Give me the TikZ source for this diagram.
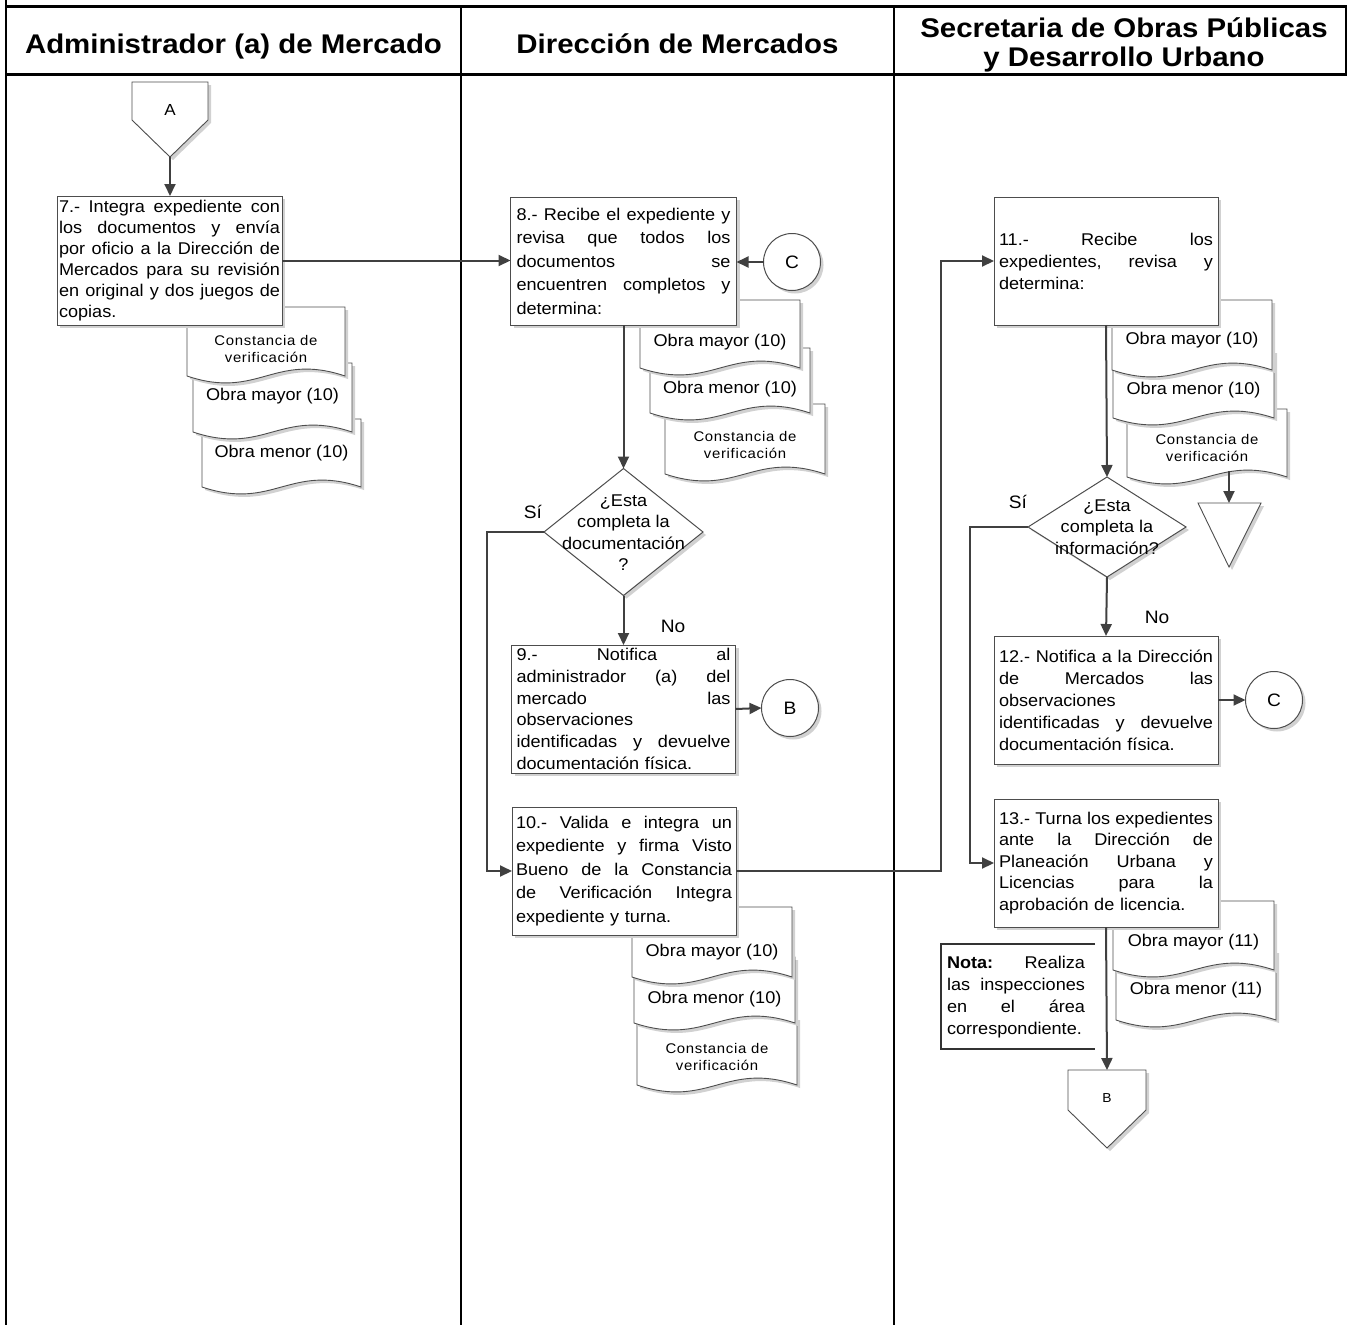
\documentclass[tikz,border=0pt]{standalone}
\usepackage{fontspec}
\setmainfont{Liberation Sans}[FakeStretch=1.065]
\newfontfamily\hdfont{Liberation Sans}[FakeStretch=1.09]
\newfontfamily\smfont{Liberation Sans}[FakeStretch=1.065,LetterSpace=5]
\usetikzlibrary{arrows.meta,shadows,shapes.geometric}
\setlength{\parindent}{0pt}
\definecolor{connc}{HTML}{404040}
\definecolor{edgec}{HTML}{4D4D4D}
\newcommand\gp{\hskip 0pt plus 1filll\relax}
\newcommand\fs[1]{\fontsize{17}{#1}\selectfont}
\newcommand\docshape[4]{%
  \path[docsty] (#1,#2) -- (#3,#2) -- (#3,#4)
    .. controls ({#1+0.55*(#3-#1)},{#4-24}) and ({#1+0.45*(#3-#1)},{#4+24}) .. (#1,#4) -- cycle;}
\tikzset{
  every node/.style={inner sep=0pt, outer sep=0pt},
  lane/.style={line width=1.5pt, draw=black},
  hline/.style={line width=3pt, draw=black},
  shad/.style={drop shadow={shadow xshift=3pt, shadow yshift=-3pt, fill=black!18, opacity=1}},
  box/.style={draw=edgec, line width=1pt, fill=white, rectangle, align=left, shad},
  docsty/.style={draw=edgec, line width=0.9pt, fill=white, shad},
  doctext/.style={font=\fontsize{17}{20}\selectfont},
  smtext/.style={font=\smfont\fontsize{14}{17}\selectfont, align=center},
  dec/.style={diamond, draw=edgec, line width=1pt, fill=white, shad},
  circ/.style={circle, draw=edgec, line width=1pt, fill=white, minimum size=57pt, shad, font=\fontsize{18}{20}\selectfont},
  conn/.style={draw=connc, line width=2pt, -{Triangle[length=12pt,width=11pt]}},
  lbl/.style={font=\fontsize{18}{20}\selectfont},
  hd/.style={font=\hdfont\bfseries\fontsize{27}{27}\selectfont},
}
\begin{document}
\begin{tikzpicture}[x=1pt,y=-1pt]
\useasboundingbox (0,0) rectangle (1348,1325);
% frame
\draw[lane] (6,0) -- (6,1325);
\draw[lane] (461,6) -- (461,1325);
\draw[lane] (894,6) -- (894,1325);
\draw[lane] (1346,6) -- (1346,74);
\draw[hline] (6,6) -- (1347,6);
\draw[hline] (6,74) -- (1347,74);
\node[hd, anchor=base] (h1) at (233.5,53) {Administrador (a) de Mercado};
\node[hd, anchor=base] (h2) at (677.5,53) {Dirección de Mercados};
\node[hd, anchor=base] (h3a) at (1124,37) {Secretaria de Obras Públicas};
\node[hd, anchor=base] (h3b) at (1124,66) {y Desarrollo Urbano};

% off-page A
\path[docsty] (132,82) -- (208,82) -- (208,120) -- (170,157) -- (132,120) -- cycle;
\node[font=\fontsize{16}{18}\selectfont] (oA) at (170,110) {A};
\coordinate (Atip) at (170,157);

% documents lane 1
\docshape{202}{419}{361}{487}
\docshape{193}{363}{352}{432}
\docshape{187}{307}{345}{376}
\node[doctext] (t7c) at (281.5,453) {Obra menor (10)};
\node[doctext] (t7b) at (272.5,396) {Obra mayor (10)};
\node[smtext] (t7a) at (266,349) {Constancia de\\verificación};

% documents lane 2 (box 8)
\docshape{665}{404}{825}{474}
\docshape{650}{348}{810}{413}
\docshape{640}{300}{800}{368}
\node[smtext] (t8c) at (745,445) {Constancia de\\verificación};
\node[doctext] (t8b) at (730,389) {Obra menor (10)};
\node[doctext] (t8a) at (720,342) {Obra mayor (10)};

% documents lane 2 (box 10)
\docshape{637}{1017}{797}{1085}
\docshape{634}{957}{795}{1023}
\docshape{632}{907}{792}{977}
\node[smtext] (t10c) at (717,1057) {Constancia de\\verificación};
\node[doctext] (t10b) at (714.5,999) {Obra menor (10)};
\node[doctext] (t10a) at (712,952) {Obra mayor (10)};

% documents lane 3 (box 11)
\docshape{1127}{409}{1287}{477}
\docshape{1113}{350}{1274}{418}
\docshape{1112}{300}{1272}{370}
\node[smtext] (t11c) at (1207,448) {Constancia de\\verificación};
\node[doctext] (t11b) at (1193.5,390) {Obra menor (10)};
\node[doctext] (t11a) at (1192,340) {Obra mayor (10)};

% documents lane 3 (box 13)
\docshape{1116}{950}{1276}{1020}
\docshape{1113}{901}{1274}{970}
\node[doctext] (t13b) at (1196,990) {Obra menor (11)};
\node[doctext] (t13a) at (1193.5,942) {Obra mayor (11)};

% archive triangle
\path[docsty] (1198,503) -- (1261,503) -- (1229,567) -- cycle;
\coordinate (tri) at (1229,503);
\coordinate (k1) at (1229,471);

% boxes
\node[box, minimum width=225pt, minimum height=129pt, text width=221pt, font=\fs{21}] (b7) at (169.5,260.5) {%
7.-\gp Integra\gp expediente\gp con\\
los\gp documentos\gp y\gp envía\\
por\gp oficio\gp a\gp la\gp Dirección\gp de\\
Mercados\gp para\gp su\gp revisión\\
en\gp original\gp y\gp dos\gp juegos\gp de\\
copias.};

\node[box, minimum width=226pt, minimum height=128pt, text width=214pt, font=\fs{23.5}] (b8) at (623.5,261) {%
8.-\gp Recibe\gp el\gp expediente\gp y\\
revisa\gp que\gp todos\gp los\\
documentos\gp se\\
encuentren\gp completos\gp y\\
determina:};

\node[box, minimum width=224pt, minimum height=128pt, text width=214pt, font=\fs{21.7}] (b9) at (623.5,709) {%
9.-\gp Notifica\gp al\\
administrador\gp (a)\gp del\\
mercado\gp las\\
observaciones\\
identificadas\gp y\gp devuelve\\
documentación física.};

\node[box, minimum width=224pt, minimum height=128pt, text width=216pt, font=\fs{23.5}] (b10) at (624,871) {%
10.-\gp Valida\gp e\gp integra\gp un\\
expediente\gp y\gp firma\gp Visto\\
Bueno\gp de\gp la\gp Constancia\\
de\gp Verificación\gp Integra\\
expediente y turna.};

\node[box, minimum width=224pt, minimum height=128pt, text width=214pt, font=\fs{22}] (b11) at (1106,261) {%
11.-\gp Recibe\gp los\\
expedientes,\gp revisa\gp y\\
determina:};

\node[box, minimum width=224pt, minimum height=128pt, text width=214pt, font=\fs{22}] (b12) at (1106,700) {%
12.-\gp Notifica\gp a\gp la\gp Dirección\\
de\gp Mercados\gp las\\
observaciones\\
identificadas\gp y\gp devuelve\\
documentación física.};

\node[box, minimum width=224pt, minimum height=128pt, text width=214pt, font=\fs{21.5}] (b13) at (1106,863) {%
13.-\gp Turna\gp los\gp expedientes\\
ante\gp la\gp Dirección\gp de\\
Planeación\gp Urbana\gp y\\
Licencias\gp para\gp la\\
aprobación de licencia.};

% decisions
\node[dec, minimum width=159pt, minimum height=127pt] (d1) at (623.5,532) {};
\node[align=center, font=\fs{21.5}] (d1t) at (623.5,532.5) {¿Esta\\completa la\\documentación\\?};
\node[dec, minimum width=158pt, minimum height=100pt] (d2) at (1107,527) {};
\node[align=center, font=\fs{21.5}] (d2t) at (1107,527) {¿Esta\\completa la\\información?};

% connectors (circles)
\node[circ] (cC1) at (792,262) {C};
\node[circ] (cB) at (790,708) {B};
\node[circ] (cC2) at (1274,700) {C};

% labels
\node[lbl] (si1) at (533,512) {Sí};
\node[lbl] (no1) at (673,626) {No};
\node[lbl] (si2) at (1018,502) {Sí};
\node[lbl] (no2) at (1157,617) {No};

% note
\draw[line width=2.5pt, draw=black!80] (1095,944) -- (941,944) -- (941,1049) -- (1095,1049);
\node[align=left, text width=138pt, font=\fs{22}] (nota) at (1016,997) {%
\textbf{Nota:}\gp Realiza\\
las\gp inspecciones\\
en\gp el\gp área\\
correspondiente.};

% off-page B
\path[docsty] (1068,1070) -- (1146,1070) -- (1146,1110) -- (1107,1148) -- (1068,1110) -- cycle;
\node[font=\fontsize{13}{15}\selectfont] (oB) at (1107,1098) {B};
\coordinate (Btop) at (1107,1070);

% flows
\coordinate (s1) at (487,532);
\coordinate (j1) at (941,871);
\coordinate (s2) at (970,527);
\draw[conn] (Atip) -- (Atip |- b7.north);
\draw[conn] (b7.east) -- (b7.east -| b8.west);
\draw[conn] (cC1.west) -- (cC1.west -| b8.east);
\draw[conn] (b8.south) -- (d1.north);
\draw[conn] (d1.south) -- (b9.north);
\draw[conn] (b9.east) -- (cB.west);
\draw[conn] (d1.west) -- (s1) |- (b10.west);
\draw[conn] (b10.east) -- (j1) |- (b11.west);
\draw[conn] (b11.south) -- (d2.north);
\draw[conn] (d2.south) -- (b12.north);
\draw[conn] (d2.west) -- (s2) |- (b13.west);
\draw[conn] (b12.east) -- (cC2.west);
\draw[conn] (k1) -- (tri);
\draw[conn] (b13.south) -- (Btop);
\end{tikzpicture}
\end{document}
